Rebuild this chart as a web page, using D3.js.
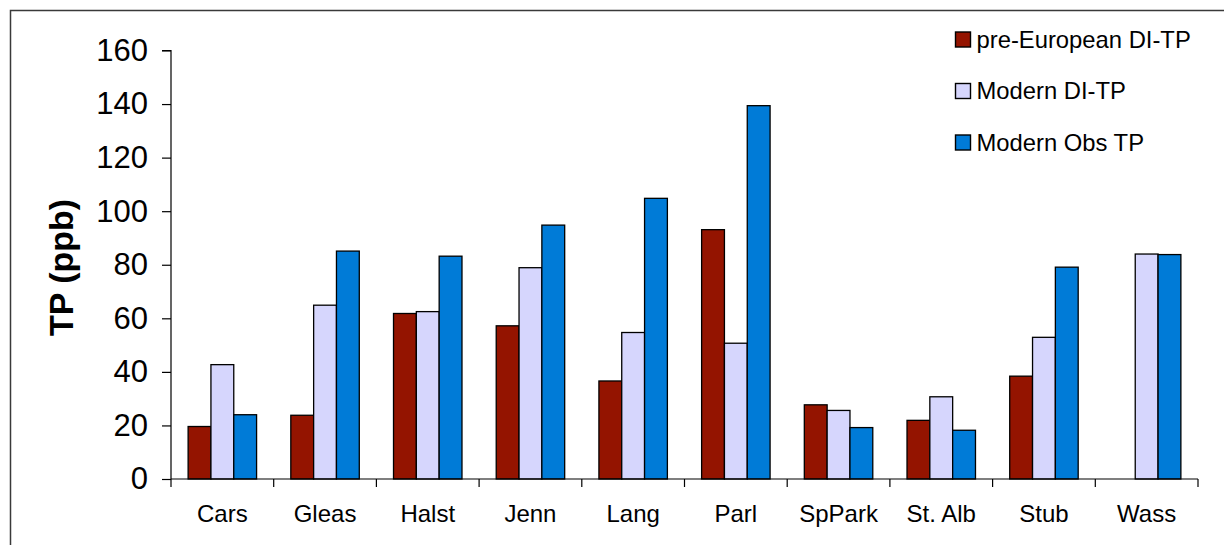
<!DOCTYPE html>
<html>
<head>
<meta charset="utf-8">
<script src="https://cdn.jsdelivr.net/npm/d3@7"></script>
<style>
  html, body { margin: 0; padding: 0; background: #fff; }
  svg { display: block; font-family: "Liberation Sans", Arial, Helvetica, sans-serif; }
</style>
</head>
<body>
<svg id="chart" width="1224" height="545"></svg>
<script>
// Lakes (x categories)
const lakes = ["Cars", "Gleas", "Halst", "Jenn", "Lang", "Parl", "SpPark", "St. Alb", "Stub", "Wass"];

// Series names and values (TP, ppb); null = no value
const seriesNames = ["pre-European DI-TP", "Modern DI-TP", "Modern Obs TP"];
const preEuropeanDITP = [19.6, 23.8, 61.8, 57.2, 36.6, 93.1, 27.7, 21.9, 38.4, null];
const modernDITP      = [42.7, 64.9, 62.5, 78.9, 54.7, 50.7, 25.6, 30.7, 52.9, 84.0];
const modernObsTP     = [24.0, 85.1, 83.2, 94.8, 104.8, 139.4, 19.2, 18.2, 79.1, 83.8];

// Y axis ticks
const yTicks = [0, 20, 40, 60, 80, 100, 120, 140, 160];

const colors = ["#941400", "#D6D6FD", "#007BD7"];
const seriesValues = [preEuropeanDITP, modernDITP, modernObsTP];

const svg = d3.select("#chart");

// Outer frame (top and left edges visible)
svg.append("path")
  .attr("d", "M10.5,545 L10.5,10.5 L1224,10.5")
  .attr("fill", "none")
  .attr("stroke", "#3a3a3a")
  .attr("stroke-width", 1.5);

const plot = { left: 171, right: 1198, top: 50.5, bottom: 479 };

const x0 = d3.scaleBand().domain(lakes).range([plot.left, plot.right]).paddingInner(0).paddingOuter(0);
const x1 = d3.scaleBand().domain(d3.range(seriesNames.length)).range([0, x0.bandwidth()]).paddingInner(0).paddingOuter(0.75);
const y = d3.scaleLinear().domain([0, 160]).range([plot.bottom, plot.top]);

// Bars
const rows = lakes.map((lake, i) => ({ lake, vals: seriesValues.map(s => s[i]) }));
const groups = svg.append("g").selectAll("g")
  .data(rows).join("g")
  .attr("transform", d => `translate(${x0(d.lake)},0)`);

groups.selectAll("rect")
  .data(d => d.vals.map((v, k) => ({ v, k })).filter(e => e.v !== null))
  .join("rect")
  .attr("x", e => x1(e.k))
  .attr("width", x1.bandwidth())
  .attr("y", e => y(e.v))
  .attr("height", e => y(0) - y(e.v))
  .attr("fill", e => colors[e.k])
  .attr("stroke", "#000")
  .attr("stroke-width", 1.3);

// Y axis
const yAxis = svg.append("g")
  .attr("transform", `translate(${plot.left},0)`)
  .call(d3.axisLeft(y).tickValues(yTicks).tickSize(9).tickPadding(14).tickFormat(d3.format("d")));
yAxis.selectAll("path, line").attr("stroke", "#000").attr("stroke-width", 1.2);
yAxis.select(".domain").attr("d", `M-9,${plot.top}H0V${plot.bottom}`);
yAxis.selectAll("text").attr("font-size", 31).attr("fill", "#000")
  .attr("font-family", "'Liberation Sans', Arial, sans-serif");

// X axis: category boundaries with tick marks below
const xAxis = svg.append("g")
  .attr("transform", `translate(0,${plot.bottom})`)
  .call(d3.axisBottom(x0).tickSize(0).tickPadding(0).tickFormat(""));
xAxis.select(".domain").attr("stroke", "#000").attr("stroke-width", 1.2)
  .attr("d", `M${plot.left},0H${plot.right}`);
xAxis.selectAll(".tick").remove();
const bounds = lakes.map(l => x0(l)).concat([plot.right]);
xAxis.selectAll("line.bound")
  .data(bounds).join("line")
  .attr("class", "bound")
  .attr("x1", d => d).attr("x2", d => d)
  .attr("y1", 0).attr("y2", 8)
  .attr("stroke", "#000").attr("stroke-width", 1.2);
xAxis.selectAll("text.cat")
  .data(lakes).join("text")
  .attr("class", "cat")
  .attr("x", d => x0(d) + x0.bandwidth() / 2)
  .attr("y", 43)
  .attr("text-anchor", "middle")
  .attr("font-size", 24)
  .attr("fill", "#000")
  .text(d => d);

// Y axis title
svg.append("text")
  .attr("transform", "translate(73,267.5) rotate(-90)")
  .attr("text-anchor", "middle")
  .attr("font-size", 34)
  .attr("font-weight", "bold")
  .attr("fill", "#000")
  .text("TP (ppb)");

// Legend
const legend = svg.append("g").attr("transform", "translate(955.5,32)");
const item = legend.selectAll("g")
  .data(seriesNames).join("g")
  .attr("transform", (d, i) => `translate(0,${i * 51.5})`);
item.append("rect")
  .attr("width", 15).attr("height", 15)
  .attr("fill", (d, i) => colors[i])
  .attr("stroke", "#000").attr("stroke-width", 1.4);
item.append("text")
  .attr("x", 21).attr("y", 15.5)
  .attr("font-size", 23.8)
  .attr("fill", "#000")
  .text(d => d);
</script>
</body>
</html>
